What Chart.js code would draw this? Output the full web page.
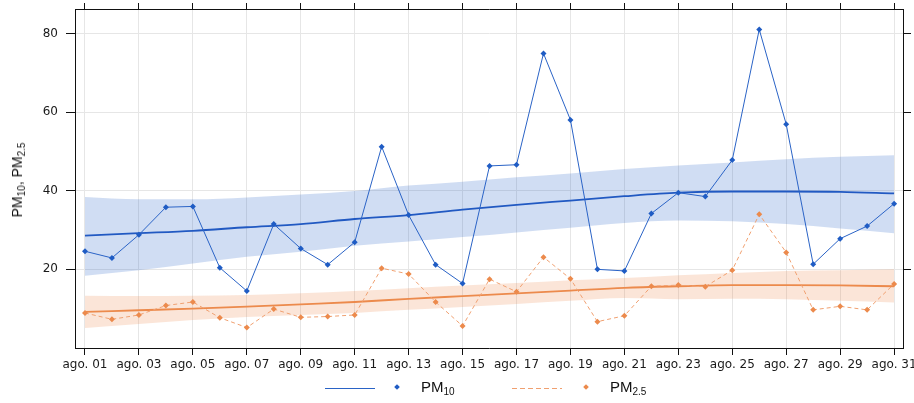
<!DOCTYPE html>
<html>
<head>
<meta charset="utf-8">
<script src="https://cdn.jsdelivr.net/npm/chart.js@4"></script>
<style>
  body { margin: 0; background: #fff; }
  #wrap { position: relative; width: 914px; height: 403px; font-family: "Liberation Sans", Arial, sans-serif; color: #111; }
  #ytitle { position: absolute; left: 17px; top: 180px; transform: translate(-50%, -50%) rotate(-90deg); font-size: 14px; font-weight: normal; color: #111; white-space: nowrap; }
  sub { font-size: 10px; vertical-align: -3px; line-height: 0; }
  .lg-line { position: absolute; top: 388px; width: 50px; height: 1px; }
  .lg-dot { position: absolute; top: 385px; width: 4px; height: 4px; transform: rotate(45deg); }
  .lg-text { position: absolute; top: 378px; font-size: 15px; white-space: nowrap; }
</style>
</head>
<body>
<div id="wrap">
  <canvas id="pmChart" width="914" height="403"></canvas>
  <div id="ytitle">PM<sub>10</sub>, PM<sub>2.5</sub></div>
  <div class="lg-line" style="left:325px; background:#2a63c6;"></div>
  <div class="lg-dot" style="left:395px; background:#1f5cc4;"></div>
  <div class="lg-text" style="left:421px;">PM<sub>10</sub></div>
  <div class="lg-line" style="left:512px; background:repeating-linear-gradient(to right, #f0a070 0 5px, transparent 5px 8px);"></div>
  <div class="lg-dot" style="left:584px; background:#ec8a4c;"></div>
  <div class="lg-text" style="left:610px;">PM<sub>2.5</sub></div>
</div>
<script>
  // days of August (1..31)
  const days = [1, 2, 3, 4, 5, 6, 7, 8, 9, 10, 11, 12, 13, 14, 15, 16, 17, 18, 19, 20, 21, 22, 23, 24, 25, 26, 27, 28, 29, 30, 31];
  const tickDays = [1, 3, 5, 7, 9, 11, 13, 15, 17, 19, 21, 23, 25, 27, 29, 31];
  const tickLabels = ['ago. 01', 'ago. 03', 'ago. 05', 'ago. 07', 'ago. 09', 'ago. 11', 'ago. 13', 'ago. 15',
                      'ago. 17', 'ago. 19', 'ago. 21', 'ago. 23', 'ago. 25', 'ago. 27', 'ago. 29', 'ago. 31'];
  const yTicks = [20, 40, 60, 80];

  const pm10 = [24.6, 22.9, 28.8, 35.8, 36.0, 20.4, 14.5, 31.5, 25.3, 21.2, 26.9, 51.2, 33.8, 21.2, 16.4, 46.3,
                46.6, 74.9, 58.0, 20.0, 19.6, 34.2, 39.5, 38.5, 47.8, 81.0, 56.9, 21.3, 27.8, 31.0, 36.7];
  const pm25 = [8.9, 7.3, 8.4, 10.8, 11.7, 7.7, 5.2, 9.9, 7.8, 8.0, 8.4, 20.3, 18.8, 11.7, 5.6, 17.5,
                14.3, 23.1, 17.6, 6.7, 8.2, 15.7, 16.0, 15.6, 19.8, 34.0, 24.3, 9.7, 10.6, 9.7, 16.3];

  // smooth trend + band, read at the odd days
  const pm10Trend = [28.6, 29.2, 29.8, 30.7, 31.5, 32.8, 33.8, 35.2, 36.4, 37.5, 38.6, 39.5, 39.8, 39.8, 39.7, 39.3];
  const pm10Upper = [38.4, 37.8, 37.8, 38.3, 39.0, 39.9, 41.3, 42.3, 43.4, 44.4, 45.5, 46.4, 47.2, 48.0, 48.6, 49.0];
  const pm10Lower = [18.4, 19.8, 21.5, 23.2, 24.5, 26.0, 27.1, 28.2, 29.4, 30.6, 31.8, 32.4, 32.2, 31.5, 30.4, 29.2];
  const pm25Trend = [9.2, 9.6, 10.0, 10.5, 11.1, 11.7, 12.5, 13.2, 13.9, 14.6, 15.3, 15.7, 16.0, 16.0, 15.9, 15.7];
  const pm25Upper = [13.3, 13.2, 13.3, 13.5, 13.9, 14.5, 15.2, 15.9, 16.5, 17.2, 17.8, 18.5, 19.1, 19.6, 19.8, 20.0];
  const pm25Lower = [5.1, 6.1, 7.1, 7.9, 8.4, 8.9, 9.7, 10.4, 11.2, 12.0, 12.7, 12.4, 12.5, 12.4, 12.0, 11.6];

  function pts(xs, ys) {
    return xs.map((x, i) => ({ x: x, y: ys[i] }));
  }

  // fixed box sizes, no extra label padding
  function fixBox(prop, size) {
    return (s) => {
      s[prop] = size;
      s.paddingTop = 0; s.paddingBottom = 0; s.paddingLeft = 0; s.paddingRight = 0;
    };
  }

  const xMin = 0.63, xMax = 31.33, yMin = 0, yMax = 86.2;
  const tickFont = { family: 'DejaVu Sans', size: 12 };

  const bandStyle = { pointRadius: 0, borderWidth: 0, cubicInterpolationMode: 'monotone' };

  const pmChart = new Chart(document.getElementById('pmChart'), {
      type: 'line',
      data: {
          datasets: [
              { label: 'PM10', data: pts(days, pm10), borderColor: '#2a63c6', borderWidth: 1,
                pointStyle: 'rectRot', pointRadius: 3, pointBackgroundColor: '#1f5cc4', pointBorderWidth: 0, fill: false },
              { label: 'PM2.5', data: pts(days, pm25), borderColor: '#f0a070', borderWidth: 1, borderDash: [4, 3],
                pointStyle: 'rectRot', pointRadius: 3, pointBackgroundColor: '#ec8a4c', pointBorderWidth: 0, fill: false },
              { label: 'PM10 trend', data: pts(tickDays, pm10Trend), borderColor: '#2159c2', borderWidth: 1.8,
                pointRadius: 0, cubicInterpolationMode: 'monotone', fill: false },
              { label: 'PM2.5 trend', data: pts(tickDays, pm25Trend), borderColor: '#ec8a4c', borderWidth: 1.8,
                pointRadius: 0, cubicInterpolationMode: 'monotone', fill: false },
              Object.assign({ label: 'PM10 hi', data: pts(tickDays, pm10Upper), fill: '+1',
                backgroundColor: 'rgba(40, 100, 200, 0.22)' }, bandStyle),
              Object.assign({ label: 'PM10 lo', data: pts(tickDays, pm10Lower), fill: false }, bandStyle),
              Object.assign({ label: 'PM2.5 hi', data: pts(tickDays, pm25Upper), fill: '+1',
                backgroundColor: 'rgba(237, 130, 70, 0.21)' }, bandStyle),
              Object.assign({ label: 'PM2.5 lo', data: pts(tickDays, pm25Lower), fill: false }, bandStyle)
          ]
      },
      options: {
          responsive: false,
          animation: false,
          layout: { padding: 0 },
          plugins: { legend: { display: false }, tooltip: { enabled: false } },
          scales: {
              x: {
                  type: 'linear', position: 'bottom', min: xMin, max: xMax,
                  afterBuildTicks: (s) => { s.ticks = tickDays.map(v => ({ value: v })); },
                  afterFit: fixBox('height', 55),
                  ticks: { autoSkip: false, maxRotation: 0, padding: 3, color: '#1a1a1a', font: tickFont,
                           callback: (v) => tickLabels[tickDays.indexOf(v)] },
                  grid: { color: '#e6e6e6', tickColor: '#111', tickLength: 7 },
                  border: { color: '#111' }
              },
              x2: {
                  type: 'linear', position: 'top', min: xMin, max: xMax,
                  afterBuildTicks: (s) => { s.ticks = tickDays.map(v => ({ value: v })); },
                  afterFit: fixBox('height', 9),
                  ticks: { display: false },
                  grid: { drawOnChartArea: false, tickColor: '#111', tickLength: 6 },
                  border: { color: '#111' }
              },
              y: {
                  type: 'linear', position: 'left', min: yMin, max: yMax,
                  afterBuildTicks: (s) => { s.ticks = yTicks.map(v => ({ value: v })); },
                  afterFit: fixBox('width', 75),
                  ticks: { padding: 8, color: '#1a1a1a', font: tickFont },
                  grid: { color: '#e6e6e6', tickColor: '#111', tickLength: 9 },
                  border: { color: '#111' }
              },
              y2: {
                  type: 'linear', position: 'right', min: yMin, max: yMax,
                  afterBuildTicks: (s) => { s.ticks = yTicks.map(v => ({ value: v })); },
                  afterFit: fixBox('width', 11),
                  ticks: { display: false },
                  grid: { drawOnChartArea: false, tickColor: '#111', tickLength: 8 },
                  border: { color: '#111' }
              }
          }
      }
  });
</script>
</body>
</html>
